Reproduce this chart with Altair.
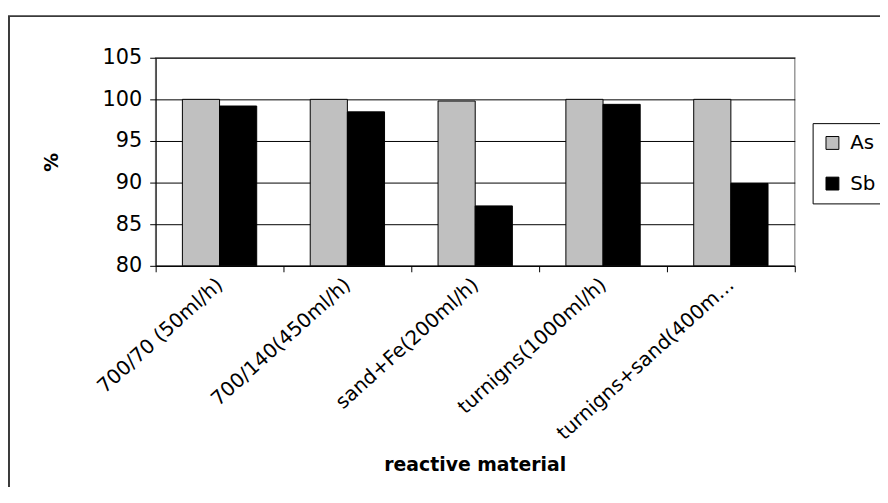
import altair as alt
import pandas as pd

categories = ["700/70 (50ml/h)", "700/140(450ml/h)", "sand+Fe(200ml/h)",
              "turnigns(1000ml/h)", "turnigns+sand(400ml/h)"]
series = ["As", "Sb"]
as_values = [100.0, 100.0, 99.8, 100.0, 100.0]
sb_values = [99.2, 98.5, 87.2, 99.4, 89.9]
y_ticks = [80, 85, 90, 95, 100, 105]
colors = ["#C0C0C0", "#000000"]

rows = []
for c, a, s in zip(categories, as_values, sb_values):
    rows.append({"material": c, "element": "As", "value": a})
    rows.append({"material": c, "element": "Sb", "value": s})
df = pd.DataFrame(rows)

FONT = "DejaVu Sans"

bars = alt.Chart(df).mark_bar(stroke="black", strokeWidth=1).encode(
    x=alt.X("material:N", sort=categories,
            scale=alt.Scale(paddingInner=0, paddingOuter=0),
            axis=alt.Axis(title="reactive material", grid=False,
                          labelAngle=-42, labelAlign="right", labelBaseline="middle",
                          labelFontSize=20, labelFont=FONT, labelColor="black",
                          labelLimit=238, labelPadding=10, labelOverlap=False,
                          tickBand="extent", tickSize=6, tickColor="black",
                          domainColor="black",
                          titleFont=FONT, titleFontSize=19, titleFontWeight="bold",
                          titleColor="black", titleX=322, titleY=201,
                          titleBaseline="middle", titleAlign="center")),
    xOffset=alt.XOffset("element:N", sort=series,
                        scale=alt.Scale(paddingInner=0, paddingOuter=0.72)),
    y=alt.Y("value:Q", scale=alt.Scale(domain=[80, 105], nice=False, zero=False),
            axis=alt.Axis(values=y_ticks, title="%", grid=True, gridColor="#000000",
                          gridWidth=1, labelFont=FONT, labelFontSize=21,
                          labelColor="black", labelPadding=8, tickSize=6,
                          tickColor="black", domainColor="black",
                          titleFont=FONT, titleFontSize=19, titleFontWeight="bold",
                          titleColor="black", titleX=-105, titleY=105, titleAngle=270,
                          titleAlign="center", titleBaseline="middle")),
    y2=alt.Y2Datum(80),
    color=alt.Color("element:N", sort=series,
                    scale=alt.Scale(domain=series, range=colors),
                    legend=alt.Legend(title=None, orient="none", legendX=663, legendY=66,
                                      symbolType="square", symbolSize=169,
                                      symbolStrokeColor="black", symbolStrokeWidth=1,
                                      symbolOpacity=1,
                                      labelFont=FONT, labelFontSize=20, labelColor="black",
                                      labelOffset=8, rowPadding=21, padding=10,
                                      strokeColor="black", fillColor="white")),
)

frame = alt.Chart(pd.DataFrame({"k": [0]})).mark_rect(
    fillOpacity=0, stroke="#3a3a3a", strokeWidth=2
).encode(
    x=alt.value(-148), x2=alt.value(900), y=alt.value(-42), y2=alt.value(700)
)

chart = alt.layer(frame, bars).properties(
    width=645, height=210,
    autosize=alt.AutoSizeParams(type="none"),
    padding={"left": 149, "top": 48, "right": 86, "bottom": 221},
    background="white",
).configure_view(stroke="#999999", strokeWidth=1.5)

chart.save("out.html", embed_options={"renderer": "svg", "actions": False})
